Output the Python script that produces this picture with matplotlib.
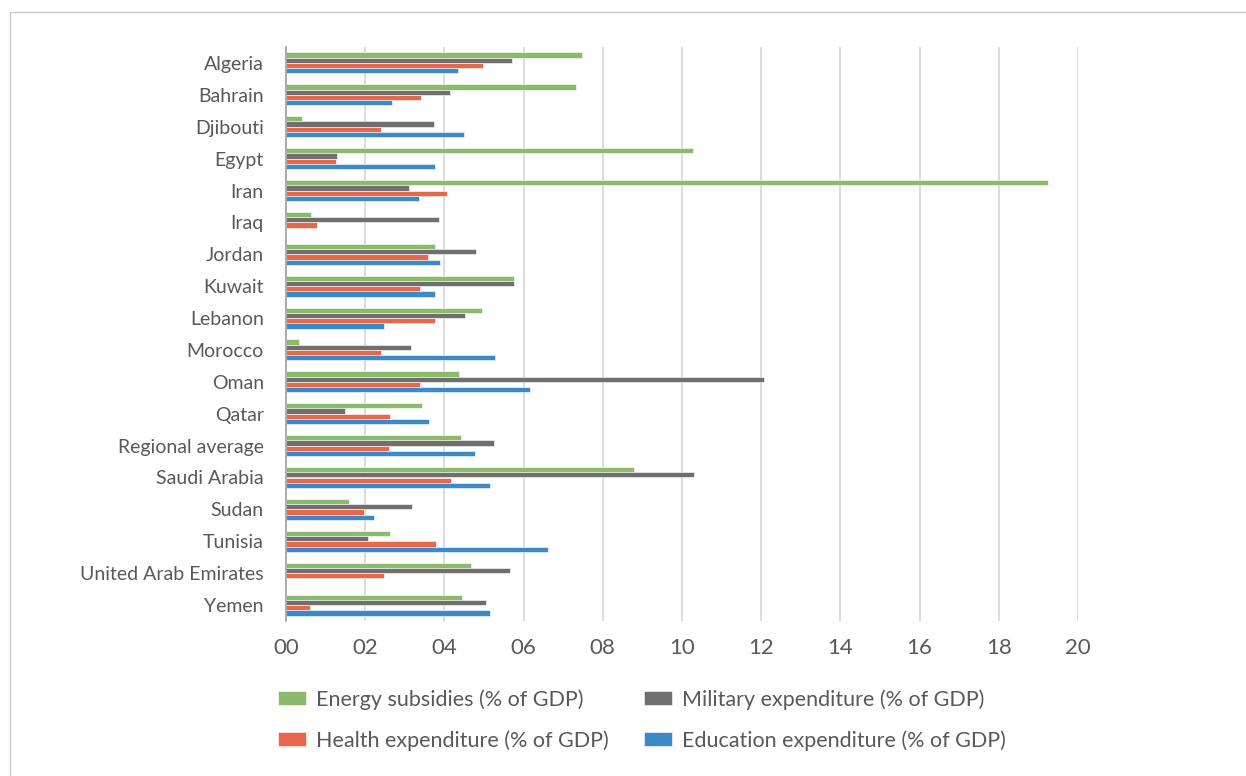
import numpy as np
import matplotlib.pyplot as plt
from matplotlib.patches import Rectangle

plt.rcParams['font.family'] = ['Lato', 'DejaVu Sans']

# data (% of GDP)
countries = ["Algeria", "Bahrain", "Djibouti", "Egypt", "Iran", "Iraq", "Jordan",
             "Kuwait", "Lebanon", "Morocco", "Oman", "Qatar", "Regional average",
             "Saudi Arabia", "Sudan", "Tunisia", "United Arab Emirates", "Yemen"]
energy = [7.47, 7.33, 0.41, 10.27, 19.23, 0.62, 3.77, 5.76, 4.95, 0.32, 4.37, 3.44,
          4.41, 8.78, 1.59, 2.62, 4.66, 4.44]
military = [5.71, 4.13, 3.73, 1.28, 3.10, 3.86, 4.80, 5.76, 4.51, 3.16, 12.07, 1.50,
            5.25, 10.31, 3.19, 2.08, 5.65, 5.05]
health = [4.98, 3.41, 2.39, 1.25, 4.06, 0.78, 3.59, 3.39, 3.76, 2.39, 3.38, 2.62,
          2.60, 4.16, 1.96, 3.79, 2.47, 0.60]
education = [4.35, 2.67, 4.49, 3.76, 3.36, 0.0, 3.90, 3.76, 2.47, 5.27, 6.16, 3.60,
             4.78, 5.14, 2.22, 6.61, 0.0, 5.16]
ticks = [0, 2, 4, 6, 8, 10, 12, 14, 16, 18, 20]

series = [
    ("Energy subsidies (% of GDP)", energy, "#8bbb6a"),
    ("Military expenditure (% of GDP)", military, "#6f6f6f"),
    ("Health expenditure (% of GDP)", health, "#e8674b"),
    ("Education expenditure (% of GDP)", education, "#3d88c7"),
]

txt = "#595959"

fig = plt.figure(figsize=(12.46, 7.76), dpi=100)
ax = fig.add_axes([286 / 1246, 1 - 621 / 776, 792 / 1246, 574 / 776])

y = np.arange(len(countries))
h = 0.165
handles = []
for i, (name, vals, col) in enumerate(series):
    b = ax.barh(y - 1.5 * h + i * h, vals, height=h, color=col,
                edgecolor="white", linewidth=0.4, label=name, zorder=3)
    handles.append(b)

ax.set_xlim(0, 20)
ax.set_ylim(len(countries) - 0.5, -0.5)
ax.set_xticks(ticks)
ax.set_xticklabels(["%02d" % t for t in ticks])
ax.set_yticks(y)
ax.set_yticklabels(countries)
ax.grid(axis="x", color="#d9d9d9", linewidth=1.3, zorder=0)
ax.tick_params(axis="x", length=0, pad=12, labelsize=16, labelcolor=txt)
ax.tick_params(axis="y", length=0, pad=16, labelsize=14, labelcolor=txt)
for s in ["top", "right", "bottom"]:
    ax.spines[s].set_visible(False)
ax.spines["left"].set_color("#a6a6a6")
ax.spines["left"].set_linewidth(1.3)
ax.spines["left"].set_zorder(4)

# legend in two columns, rows ordered like the reference
order = [0, 2, 1, 3]
leg = fig.legend([handles[k] for k in order], [series[k][0] for k in order],
                 ncol=2, loc="center", bbox_to_anchor=(642 / 1246, 1 - 720 / 776),
                 frameon=False, fontsize=15.5, handlelength=1.3, handleheight=0.65,
                 columnspacing=1.6, labelspacing=0.95, handletextpad=0.5)
for t in leg.get_texts():
    t.set_color(txt)

# chart area border
fig.patches.append(Rectangle((10 / 1246, -0.1), 1.2, 1 - 12 / 776 + 0.1,
                             transform=fig.transFigure, fill=False,
                             edgecolor="#c8c8c8", linewidth=1.0))

fig.savefig("out.png", dpi=100)
